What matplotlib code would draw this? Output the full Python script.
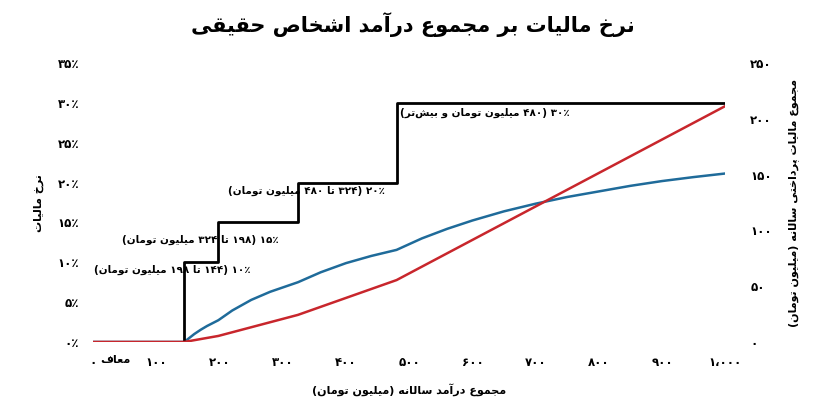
import matplotlib
matplotlib.use("Agg")
import matplotlib.pyplot as plt

# ---- data ----
rate_x = [0, 144, 144, 198, 198, 324, 324, 480, 480, 1000]
rate_y = [0, 0, 10, 10, 15, 15, 20, 20, 30, 30]
tax_x = [0, 144, 198, 324, 480, 1000]
tax_y = [0, 0, 5.4, 24.3, 55.5, 211.5]
eff_x = [0, 144, 160, 170, 180, 198, 220, 250, 280, 324, 360, 400, 440, 480, 520, 560,
         600, 650, 700, 750, 800, 850, 900, 950, 1000]
eff_y = [0, 0, 1.0, 1.53, 2.0, 2.73, 3.95, 5.28, 6.3, 7.5, 8.75, 9.9, 10.8, 11.56, 13.0, 14.2,
         15.25, 16.4, 17.36, 18.2, 18.9, 19.6, 20.2, 20.7, 21.15]
x_ticks = [0, 100, 200, 300, 400, 500, 600, 700, 800, 900, 1000]
x_labels = ["۰", "۱۰۰", "۲۰۰", "۳۰۰", "۴۰۰", "۵۰۰", "۶۰۰", "۷۰۰", "۸۰۰", "۹۰۰", "۱،۰۰۰"]
yl_ticks = [0, 5, 10, 15, 20, 25, 30, 35]
yl_labels = ["۰٪", "۵٪", "۱۰٪", "۱۵٪", "۲۰٪", "۲۵٪", "۳۰٪", "۳۵٪"]
yr_ticks = [0, 50, 100, 150, 200, 250]
yr_labels = ["۰", "۵۰", "۱۰۰", "۱۵۰", "۲۰۰", "۲۵۰"]
notes = ["۱۰٪ (۱۴۴ تا ۱۹۸ میلیون تومان)", "۱۵٪ (۱۹۸ تا ۳۲۴ میلیون تومان)",
         "۲۰٪ (۳۲۴ تا ۴۸۰ میلیون تومان)", "۳۰٪ (۴۸۰ میلیون تومان و بیش‌تر)"]
note_pos = [(125, 9.0), (170, 12.8), (337, 19.0), (619, 28.7)]
title = "نرخ مالیات بر مجموع درآمد اشخاص حقیقی"
xlab = "مجموع درآمد سالانه (میلیون تومان)"
yllab = "نرخ مالیات"
yrlab = "مجموع مالیات پرداختی سالانه (میلیون تومان)"
exempt = "معاف"

# ---- minimal Arabic/Persian shaping + bidi ----
F = {
 'ا': (0xFE8D, 0xFE8E), 'آ': (0xFE81, 0xFE82), 'د': (0xFEA9, 0xFEAA), 'ذ': (0xFEAB, 0xFEAC),
 'ر': (0xFEAD, 0xFEAE), 'ز': (0xFEAF, 0xFEB0), 'ژ': (0xFB8A, 0xFB8B), 'و': (0xFEED, 0xFEEE),
}
for ch, b in [('ب', 0xFE8F), ('ت', 0xFE95), ('ث', 0xFE99), ('ج', 0xFE9D), ('ح', 0xFEA1),
              ('خ', 0xFEA5), ('س', 0xFEB1), ('ش', 0xFEB5), ('ص', 0xFEB9), ('ض', 0xFEBD),
              ('ط', 0xFEC1), ('ظ', 0xFEC5), ('ع', 0xFEC9), ('غ', 0xFECD), ('ف', 0xFED1),
              ('ق', 0xFED5), ('ل', 0xFEDD), ('م', 0xFEE1), ('ن', 0xFEE5), ('ه', 0xFEE9),
              ('پ', 0xFB56), ('چ', 0xFB7A), ('ک', 0xFB8E), ('گ', 0xFB92), ('ی', 0xFBFC)]:
    F[ch] = (b, b + 1, b + 2, b + 3)

def shape(s):
    out = []
    n = len(s)
    for i, c in enumerate(s):
        if c not in F:
            if c != '\u200c':
                out.append(c)
            continue
        prev = s[i - 1] if i > 0 else ''
        nxt = s[i + 1] if i + 1 < n else ''
        jp = prev in F and len(F[prev]) == 4
        jn = len(F[c]) == 4 and nxt in F
        f = F[c]
        if jp and jn:
            out.append(chr(f[3]))
        elif jp:
            out.append(chr(f[1]))
        elif jn:
            out.append(chr(f[2]))
        else:
            out.append(chr(f[0]))
    return ''.join(out)

DIG = set("۰۱۲۳۴۵۶۷۸۹0123456789٪،.")
MIR = {'(': ')', ')': '('}

def rtl(s):
    s = shape(s)
    runs, cur, isd = [], '', None
    for c in s:
        d = c in DIG
        if cur and d != isd:
            runs.append((cur, isd)); cur = ''
        cur += c; isd = d
    if cur:
        runs.append((cur, isd))
    res = ''
    for r, d in reversed(runs):
        res += r if d else ''.join(MIR.get(c, c) for c in reversed(r))
    return res

# ---- plot ----
plt.rcParams['font.family'] = ['DejaVu Sans']
fig = plt.figure(figsize=(8.25, 4.13), dpi=100)
ax = fig.add_axes([0.113, 0.172, 0.766, 0.675])
ax2 = ax.twinx()

ax2.plot(tax_x, tax_y, color='#c8262c', lw=1.8)
ax.plot(eff_x, eff_y, color='#1f6b9a', lw=1.8)
ax.plot(rate_x, rate_y, color='black', lw=2.0)

ax.set_xlim(0, 1000)
ax.set_ylim(0, 35)
ax2.set_ylim(0, 250)
ax.set_xticks(x_ticks, x_labels, fontsize=8.5, fontweight='bold')
ax.set_yticks(yl_ticks, yl_labels, fontsize=8.5, fontweight='bold')
ax2.set_yticks(yr_ticks, yr_labels, fontsize=8.5, fontweight='bold')
for a in (ax, ax2):
    for sp in a.spines.values():
        sp.set_visible(False)
    a.tick_params(length=0, pad=10)
ax2.tick_params(pad=18)

ax.text(35, -0.045, rtl(exempt), transform=ax.get_xaxis_transform(), ha='center', va='top',
        fontsize=8, fontweight='bold')
for t, (x, y) in zip(notes, note_pos):
    ax.text(x, y, rtl(t), ha='center', va='center', fontsize=7.5, fontweight='bold')

ax.set_xlabel(rtl(xlab), fontsize=8, fontweight='bold', labelpad=10)
ax.set_ylabel(rtl(yllab), fontsize=8, fontweight='bold', labelpad=10)
ax2.set_ylabel(rtl(yrlab), fontsize=8, fontweight='bold', rotation=90, labelpad=12)
fig.text(0.5, 0.94, rtl(title), ha='center', va='center', fontsize=15, fontweight='bold')

fig.savefig('out.png', dpi=100)
